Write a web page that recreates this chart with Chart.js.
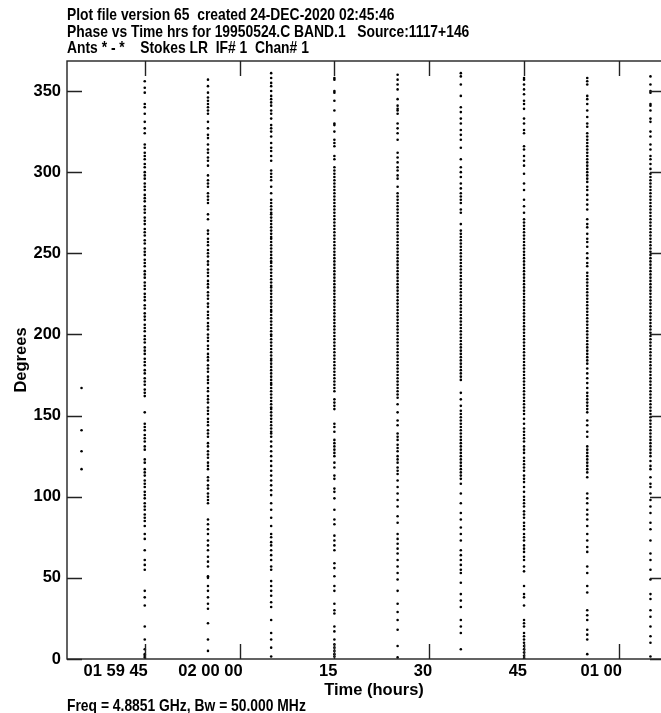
<html>
<head>
	<title>Phase vs Time</title>
	<meta charset="utf-8">
	<style>
		body { margin: 0; overflow: hidden; background: #fff; }
		#wrap { position: absolute; left: 0; top: 0; width: 675px; height: 713px; }
	</style>
</head>
<body>
	<div id="wrap"><canvas id="myChart" width="675" height="713"></canvas></div>

	<script src="https://cdn.jsdelivr.net/npm/chart.js@4.4.0/dist/chart.umd.min.js"></script>
	<script type="text/javascript">
	// time of each 10 s integration, seconds from 02 00 00
	var stripTimes = [-25, -15, -5, 5, 15, 25, 35, 45, 55, 65];

	// phases in degrees, read strip by strip
	var phaseM25 = [167, 141, 128, 117];
	var phaseM15 = [356, 352, 349, 342, 340, 336, 331, 327, 324,
		317, 315, 312, 310, 308, 305, 303, 300, 298, 296, 293, 291, 289, 286, 284, 282, 279, 277, 275, 272, 270, 268, 265, 263, 261, 258, 256, 253, 251, 249, 246, 244, 242, 239, 237, 235, 232, 230, 228, 225, 223, 221, 218, 216, 213, 211, 209, 206, 204, 202, 199, 197, 195, 192, 190, 188, 185, 183, 181, 178, 176, 173, 171, 169, 166, 164, 162,
		152, 145, 143, 141, 138, 136, 134, 131, 129, 123, 121,
		117, 115, 113, 110, 108, 106, 103, 101, 99, 96, 94, 92, 89, 87, 85, 82,
		77, 74, 67, 61, 58, 55, 42, 38, 33, 20, 12, 6, 3, 2, 1];
	var phaseM05 = [357, 353, 349, 346, 344, 342, 340, 338, 336, 331, 327, 323, 321,
		317, 314, 312, 309, 307, 304, 298, 295, 293, 291, 287, 285, 283, 281, 274, 271,
		264, 262, 259, 257, 255, 252, 250, 248, 245, 243, 240, 238, 236, 233, 231, 229, 226, 224, 222, 219, 217, 214, 212, 210, 207, 205, 203, 200, 198, 196, 193, 191, 188, 186, 184, 181, 179, 177, 174, 172, 170, 167, 165, 162, 160, 158, 155, 153, 151, 148, 146, 144, 141, 139, 137,
		133, 131, 128, 126, 124, 121, 119, 117,
		112, 110, 107, 105, 102, 100, 98, 96, 86, 83, 80, 77, 73, 70, 67, 63, 60, 57,
		51, 50, 45, 42, 38, 34, 31, 22, 12, 5];
	var phaseP05 = [361, 358, 355, 353, 350, 347, 345, 343, 341, 338, 336, 333, 329, 327, 325, 322,
		318, 315, 313, 310, 307, 301, 299, 297, 295, 291, 287,
		283, 281, 279, 277, 275, 274, 272, 270, 268, 266, 264, 262, 260, 259, 257, 255, 253, 251, 249, 247, 245, 244, 242, 240, 238, 236, 234, 232, 230, 229, 227, 225, 223, 221, 219, 217, 215, 214, 212, 210, 208, 206, 204, 202, 200, 199, 197, 195, 193, 191, 189, 187, 185, 184, 182, 180, 178, 176, 174, 172, 170, 169, 167, 165, 163, 161, 159, 157, 155, 154, 152, 150, 148, 146, 144, 142, 140, 139, 137,
		134, 131, 128, 125, 122, 119, 116, 113, 110, 107, 104,
		101, 96, 92, 87, 82, 77, 75, 72, 70, 67, 64, 61, 57, 55,
		48, 45, 42, 39, 35, 32, 24, 16, 12, 7, 1.5];
	var phaseP15 = [358, 357, 350, 349, 344, 338, 330, 329, 325, 320, 318, 316, 310, 308,
		303, 301, 299, 297, 295, 293, 291, 289, 287, 285, 283, 281, 279, 277, 275, 273, 271, 269, 267, 265, 263, 261, 259, 257, 255, 253, 251, 249, 247, 245, 243, 241, 239, 237, 235, 233, 231, 229, 227, 225, 223, 221, 219, 217, 215, 213, 211, 209, 207, 205, 203, 201, 199, 197, 195, 193, 191, 189, 187, 185, 183, 181, 179, 177, 175, 173, 171, 169, 167, 165,
		160, 158, 156, 154, 145, 143, 140, 135, 133, 131, 129, 127, 125,
		121, 118, 113, 111, 105, 103, 99, 92, 86, 83, 76, 73, 70, 67, 59, 56, 51,
		45, 42, 34, 30, 28, 20, 17, 12, 9, 7, 5, 3, 1.5];
	var phaseP25 = [360, 357, 354, 351, 345, 341, 339, 338, 336, 330, 327, 324, 320,
		312, 309, 306, 303, 301, 298, 296, 291,
		287, 285, 283, 281, 279, 277, 275, 273, 271, 269, 267, 265, 263, 261, 259, 257, 255, 253, 251, 249, 247, 245, 243, 241, 239, 237, 235, 233, 231, 229, 227, 225, 223, 221, 219, 217, 215, 213, 211, 209, 207, 205, 203, 201, 199, 197, 195, 193, 191, 189, 187, 185, 183, 181, 179, 177, 175, 173, 171, 169, 167, 165, 163, 161,
		157, 152, 147, 144, 139, 137, 135, 132, 130, 128, 125, 123, 121, 118, 116, 114,
		110, 106, 102, 98, 94, 88, 84, 77, 74, 71, 68, 65, 61, 57, 53, 49,
		42, 34, 29, 24, 18, 8, 1];
	var phaseP35 = [361, 359, 354, 347, 340, 337, 333, 330, 326, 323, 320, 315, 308,
		303, 300, 297, 293, 290, 287, 285, 283, 281, 277, 275, 268,
		264, 262, 260, 258, 256, 254, 252, 250, 248, 246, 244, 242, 240, 238, 236, 234, 232, 230, 228, 226, 224, 222, 220, 218, 216, 214, 212, 210, 208, 206, 204, 202, 200, 198, 196, 194, 192, 190, 188, 186, 184, 182, 180, 178, 176, 174, 172,
		164, 160, 156,
		153, 151, 149, 147, 145, 143, 141, 139, 137, 135, 133, 131, 129, 127, 125, 123, 121, 119, 117, 115, 113, 111,
		108, 102, 96, 90, 86, 81, 77, 73, 67, 64, 61, 58, 55, 53,
		47, 40, 36, 32, 24, 20, 16, 6];
	var phaseP45 = [358, 357, 354, 351, 348, 344, 342, 339, 333, 330, 326, 324, 316, 314,
		310, 307, 304, 299, 293, 289, 283, 279, 275,
		271, 269, 267, 265, 263, 261, 259, 257, 255, 253, 251, 249, 247, 245, 243, 241, 239, 237, 235, 233, 231, 229, 227, 225, 223, 221, 219, 217, 215, 213, 211, 209, 207, 205, 203, 201, 199, 197, 195, 193, 191, 189, 187, 185, 183, 181, 179, 177, 175, 173, 171, 169, 167, 165, 163, 161, 159, 157, 155, 153, 151,
		148, 145, 142, 140, 138, 136, 134, 131, 129, 127, 124, 122, 120, 118, 116, 113, 111, 109, 106,
		103, 100, 98, 96, 94, 91, 89, 87, 84, 82, 80, 77, 75, 73, 70, 68, 66, 63, 61,
		57, 54, 45, 40, 38, 33, 24, 22, 20, 16, 14, 12, 10, 8, 6, 4, 2, 0.5];
	var phaseP55 = [358, 356, 354, 347, 345, 342, 338, 334, 330, 328,
		324, 322, 320, 318, 316, 314, 312, 310, 308, 306, 304, 302, 300, 298, 296, 294,
		291, 289, 286, 283, 280, 277, 271, 268, 266, 262, 259, 257, 254, 250, 247, 244, 242,
		238, 236, 234, 232, 230, 228, 226, 224, 222, 220, 218, 216, 214, 212, 210, 208, 206, 204, 202, 200, 198, 196, 194, 192, 190, 188, 186, 184,
		182, 179, 176, 173, 170, 167, 164, 162, 160, 158, 156, 154, 152,
		147, 144, 140, 137, 131, 129, 127, 125, 123, 121, 119, 117, 115, 112,
		102, 99, 96, 92, 89, 86, 82, 77, 73, 69, 66, 57, 53, 45, 41,
		30, 27, 24, 18, 15, 12, 3];
	var phaseP65 = [359, 354, 350, 349, 342, 341, 338, 333, 331, 325, 322, 317, 314, 310, 308, 305, 302,
		299, 297, 295, 293, 291, 289, 287, 285, 283, 281, 279, 277, 275, 273, 271, 269, 267, 265, 263, 261, 259, 257, 255, 253, 251, 249, 247, 245, 243, 241, 239, 237, 235, 233, 231, 229, 227, 225, 223, 221, 219, 217, 215, 213, 211, 209, 207, 205, 203, 201, 199, 197, 195, 193, 191, 189, 187, 185, 183, 181, 179, 177, 175, 173, 171, 169, 167, 165, 163, 161, 159, 157, 155, 153, 151, 149, 147, 145, 143, 141, 139, 137, 135, 133, 131, 129, 127, 125,
		122, 119, 117, 112, 108, 106, 102, 98, 94, 90, 84, 80, 73, 65, 61, 55, 49,
		40, 37, 30, 26, 20, 14, 10, 1.5];
	var phases = [phaseM25, phaseM15, phaseM05, phaseP05, phaseP15, phaseP25, phaseP35, phaseP45, phaseP55, phaseP65];

	// x axis tick labels (hh mm ss, only the changing part after the first)
	var xTickValues = [-15, 0, 15, 30, 45, 60];
	var xTickLabels = ["01 59 45", "02 00 00", "15", "30", "45", "01 00"];

	var titleLines = [
		"Plot file version 65  created 24-DEC-2020 02:45:46",
		"Phase vs Time hrs for 19950524.C BAND.1   Source:1117+146",
		"Ants * - *    Stokes LR  IF# 1  Chan# 1"
	];
	var footLine = "Freq = 4.8851 GHz, Bw = 50.000 MHz";

	var FONT = "bold 16.5px 'Liberation Sans', Arial, sans-serif";
	var NARROW = 0.84; // the header/footer lettering is narrower than the tick labels

	var points = [];
	stripTimes.forEach(function(t, i){
		phases[i].forEach(function(p){
			points.push({x: t, y: p});
		});
	});

	// frame, inward ticks and the loose texts
	var framePlugin = {
		id: "frame",
		afterDraw: function(chart){
			var ctx = chart.ctx;
			var a = chart.chartArea;
			var xs = chart.scales.x, ys = chart.scales.y;
			ctx.save();
			ctx.strokeStyle = "#222";
			ctx.lineWidth = 1.4;
			ctx.strokeRect(a.left, a.top, a.right - a.left, a.bottom - a.top);
			ctx.beginPath();
			ys.ticks.forEach(function(t){
				var y = Math.round(ys.getPixelForValue(t.value)) + 0.5;
				ctx.moveTo(a.left, y); ctx.lineTo(a.left + 15, y);
				ctx.moveTo(a.right, y); ctx.lineTo(a.right - 15, y);
			});
			xs.ticks.forEach(function(t){
				var x = Math.round(xs.getPixelForValue(t.value)) + 0.5;
				ctx.moveTo(x, a.top); ctx.lineTo(x, a.top + 15);
				ctx.moveTo(x, a.bottom); ctx.lineTo(x, a.bottom - 15);
			});
			ctx.stroke();

			ctx.fillStyle = "#000";
			ctx.font = FONT;
			ctx.textBaseline = "alphabetic";
			ctx.textAlign = "center";
			ctx.fillText("Time (hours)", (a.left + a.right) / 2 + 8, 695);

			ctx.save();
			ctx.textAlign = "left";
			ctx.translate(a.left, 0);
			ctx.scale(NARROW, 1);
			titleLines.forEach(function(s, i){
				ctx.fillText(s, 0, 20 + i * 16.5);
			});
			ctx.fillText(footLine, 0, 711);
			ctx.restore();

			ctx.translate(21, (a.top + a.bottom) / 2);
			ctx.rotate(-Math.PI / 2);
			ctx.textAlign = "center";
			ctx.textBaseline = "middle";
			ctx.fillText("Degrees", 0, 0);
			ctx.restore();
		}
	};

	var ctx = document.getElementById("myChart");
	var myChart = new Chart(ctx, {
		type: "scatter",
		data: {
			datasets: [{
				data: points,
				backgroundColor: "#000",
				borderWidth: 0,
				pointRadius: 1.3,
				pointHoverRadius: 1.3
			}]
		},
		options: {
			responsive: false,
			animation: false,
			layout: { padding: { top: 61, right: 10, bottom: 0, left: 0 } },
			plugins: { legend: { display: false }, tooltip: { enabled: false } },
			scales: {
				x: {
					type: "linear",
					min: -27.3,
					max: 67.3,
					grid: { display: false, drawTicks: false },
					border: { display: false },
					afterFit: function(scale){ scale.height = 54; },
					afterBuildTicks: function(scale){
						scale.ticks = xTickValues.map(function(v){ return {value: v}; });
					},
					ticks: {
						align: "end",
						labelOffset: 3,
						padding: 3,
						color: "#000",
						font: { family: "'Liberation Sans', Arial, sans-serif", size: 16.5, weight: "bold" },
						callback: function(v){
							var i = xTickValues.indexOf(v);
							return i < 0 ? "" : xTickLabels[i];
						}
					}
				},
				y: {
					min: 0,
					max: 368.5,
					grid: { display: false, drawTicks: false },
					border: { display: false },
					afterFit: function(scale){ scale.width = 67; },
					ticks: {
						stepSize: 50,
						includeBounds: false,
						padding: 6,
						color: "#000",
						font: { family: "'Liberation Sans', Arial, sans-serif", size: 16.5, weight: "bold" }
					}
				}
			}
		},
		plugins: [framePlugin]
	});
	</script>
</body>
</html>
